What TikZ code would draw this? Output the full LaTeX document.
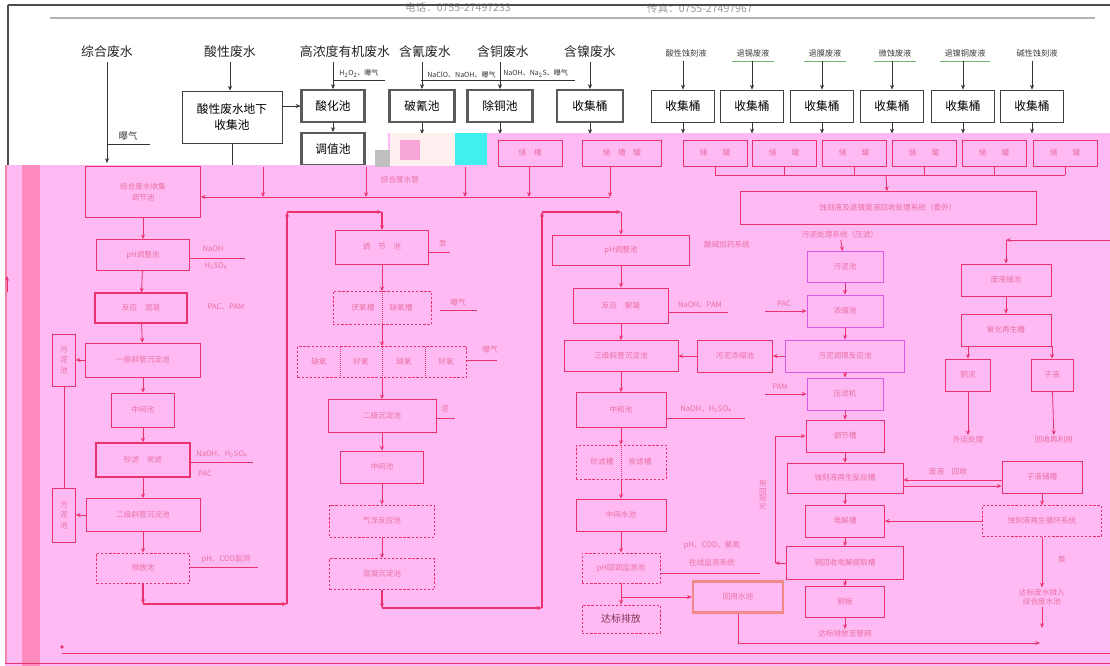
\documentclass[tikz,border=0pt]{standalone}
\usepackage{fontspec}
\setmainfont{Noto Sans CJK SC}
\usetikzlibrary{arrows.meta}
\definecolor{pkbg}{HTML}{FFB9F3}
\definecolor{pkband}{HTML}{FF8CBF}
\definecolor{pkline}{HTML}{E8336E}
\definecolor{pktext}{HTML}{E2608F}
\definecolor{pkviolet}{HTML}{D65AE6}
\definecolor{pkglow}{HTML}{F08A8A}
\definecolor{frgray}{HTML}{5A5A5A}
\definecolor{cyanblk}{HTML}{40F0EE}

\begin{document}
\begin{tikzpicture}[x=0.03cm, y=-0.03cm, >={Stealth[length=4pt,width=3.4pt]},
  box/.style={draw=black!75, line width=0.7pt, inner sep=1pt, align=center, font=\fontsize{10}{14}\selectfont},
  hbox/.style={box, draw=frgray, line width=1.8pt},
  lbl/.style={font=\fontsize{11}{13}\selectfont, text=black!85},
  slbl/.style={font=\fontsize{7}{8}\selectfont, text=black!75},
  rlbl/.style={font=\fontsize{6}{7}\selectfont, text=black!80, anchor=south west, inner sep=1pt},
  pbox/.style={draw=pkline, line width=0.6pt, inner sep=1pt, align=center, font=\fontsize{6.5}{9}\selectfont, text=pktext, text opacity=0.8},
  dbox/.style={pbox, dash pattern=on 2pt off 1.5pt},
  dbl/.style={pbox, line width=1.4pt},
  vbox/.style={pbox, draw=pkviolet},
  gbox/.style={pbox, draw=pkglow, line width=2pt},
  ptext/.style={font=\fontsize{6.5}{8}\selectfont, text=pktext, text opacity=0.8, inner sep=1pt, align=center},
  pline/.style={draw=pkline, line width=0.7pt},
  loopline/.style={draw=pkline, line width=1.3pt}]

\useasboundingbox (0,0) rectangle (1110,666);
\fill[white] (0,0) rectangle (1110,666);

%%% Header
\node[font=\fontsize{9}{10}\selectfont, text=black!40] (tel) at (458,8) {电话：0755-27497233};
\node[font=\fontsize{9}{10}\selectfont, text=black!40] (fax) at (700,8) {传真：0755-27497967};
\draw[black!70, line width=1.2pt] (8,5) -- (1110,5);
\draw[black!70, line width=1pt] (8,5) -- (8,165);
\draw[black!30, line width=1.5pt] (50,18) -- (1095,18);

%%% Sources
\node[lbl] (lzh) at (107,52) {综合废水};
\node[lbl] (lacid) at (230,52) {酸性废水};
\node[lbl] (lgao) at (345,52) {高浓度有机废水};
\node[lbl] (lqing) at (425,52) {含氰废水};
\node[lbl] (ltong) at (503,52) {含铜废水};
\node[lbl] (lnie) at (590,52) {含镍废水};
\foreach \x/\t [count=\i] in {686/酸性蚀刻液, 753/退锡废液, 825/退膜废液, 895/微蚀废液, 965/退镍铜废液, 1037/碱性蚀刻液}
  \node[slbl] (s\i) at (\x,53) {\t};
\foreach \i in {2,...,5}
  \draw[green!45!black!55, line width=0.4pt] (s\i.south west) -- (s\i.south east);

% first boxes
\node[box, minimum width=3cm, minimum height=1.56cm] (acid) at (232,117) {酸性废水地下\\收集池};
\node[hbox, minimum width=1.89cm, minimum height=0.96cm] (suanhua) at (333,106) {酸化池};
\node[hbox, minimum width=1.89cm, minimum height=0.96cm] (tiaozhi) at (333,149) {调值池};
\node[hbox, minimum width=1.95cm, minimum height=0.96cm] (poqing) at (422,106) {破氰池};
\node[hbox, minimum width=1.95cm, minimum height=0.96cm] (chutong) at (500,106) {除铜池};
\node[hbox, minimum width=1.98cm, minimum height=0.96cm] (nieshou) at (590,106) {收集桶};
\foreach \x [count=\i] in {683,752,822,892,963,1032}
  \node[box, minimum width=1.89cm, minimum height=0.96cm] (tong\i) at (\x,106) {收集桶};

% arrows from the sources
\coordinate (zhend) at (107,163);
\draw[->, black!80] (lzh) -- (zhend);
\draw[black!80] (57,165) -- (172,165);
\node[slbl, font=\fontsize{8}{9}\selectfont] (baoqi) at (128,136) {曝气};
\draw[black!80] (108,144) -- (150,144);
\draw[->, black!80] (lacid) -- (lacid |- acid.north);
\draw[black!80] (acid.south) -- ++(0,22);
\draw[->, black!80] (acid.east |- suanhua) -- (suanhua.west);
\draw[->, black!80] (suanhua |- lgao.south) -- (suanhua.north);
\draw[->, black!80] (suanhua) -- (tiaozhi);
\draw[->, black!80] (poqing |- lqing.south) -- (poqing.north);
\draw[->, black!80] (chutong |- ltong.south) -- (chutong.north);
\draw[->, black!80] (nieshou |- lnie.south) -- (nieshou.north);
\foreach \i in {1,...,6}
  \draw[->, black!80] (tong\i |- s\i.south) -- (tong\i.north);

% reagents
\node[rlbl] (ry1) at (338,79) {H\textsubscript{2}O\textsubscript{2}、曝气};
\draw[black!80] (333,80) -- (385,80);
\node[rlbl] (ry2) at (426,79) {NaClO、NaOH、曝气};
\draw[black!80] (421,80) -- (501,80);
\node[rlbl] (ry3) at (502,79) {NaOH、Na\textsubscript{2}S、曝气};
\draw[black!80] (498,80) -- (575,80);

% into the lower part
\foreach \n in {poqing, chutong, nieshou, tong1, tong2, tong3, tong4, tong5, tong6}
  \draw[->, black!80] (\n.south) -- ++(0,11);

%%% Pink part
\fill[pkbg] (5,165) -- (388,165) -- (388,133) -- (1110,133) -- (1110,666) -- (5,666) -- cycle;
\fill[pkband] (22,165) rectangle (40,666);
\fill[black!25] (375,150) rectangle (390,167);
\fill[pink!25] (390,133) rectangle (455,166);
\fill[magenta!35] (400,140) rectangle (420,160);
\fill[cyanblk] (455,133) rectangle (487,165);
\draw[pkline!60, line width=1pt] (6,165) -- (6,663);
\draw[pkline, ->] (7,292) -- (7,276);

% holding tanks
\node[pbox, minimum width=1.92cm, minimum height=0.78cm] (pr1) at (530,153) {储\quad 槽};
\node[pbox, minimum width=2.37cm, minimum height=0.78cm] (pr2) at (622,153) {储\quad 槽\quad 罐};
\foreach \x [count=\i from 3] in {715,784,854,924,994,1065}
  \node[pbox, minimum width=1.92cm, minimum height=0.78cm] (pr\i) at (\x,153) {储\qquad 罐};

% collector to the first line
\coordinate (l1e) at (610,197);
\draw[pline, ->] (pr2.south -| l1e) -- (l1e);
\foreach \x in {263,366,465,529}
  \draw[pline, ->] (\x,167) -- (\x,197);
\node[ptext] (l1lbl) at (400,180) {综合废水管};

% collector to the etchant box
\draw[pline] (715,175) -- (1065,175);
\foreach \i in {3,...,8}
  \draw[pline] (pr\i.south) -- (pr\i.south |- 0,175);
\node[pbox, minimum width=8.88cm, minimum height=0.99cm] (bigbox) at (888,208) {蚀刻液及退镀废液回收处理系统（委外）};
\draw[pline, ->] (886,175) -- (bigbox);

%%% Column 1
\node[pbox, minimum width=3.45cm, minimum height=1.53cm] (c1a) at (143,192) {综合废水收集\\调节池};
\node[pbox, minimum width=2.79cm, minimum height=0.93cm] (c1b) at (143,255) {pH调整池};
\node[pbox, line width=0.9pt, minimum width=2.76cm, minimum height=0.9cm] (c1c) at (141,308) {反应\quad 混凝};
\node[pbox, minimum width=3.45cm, minimum height=1.02cm] (c1d) at (143,360) {一级斜管沉淀池};
\node[pbox, minimum width=1.89cm, minimum height=1.02cm] (c1e) at (143,410) {中间池};
\node[dbl, minimum width=2.82cm, minimum height=1.02cm] (c1f) at (143,460) {砂滤\quad 炭滤};
\node[pbox, minimum width=3.42cm, minimum height=0.99cm] (c1g) at (143,515) {二级斜管沉淀池};
\node[dbox, minimum width=2.79cm, minimum height=0.9cm] (c1h) at (143,568) {排放池};
\node[pbox, minimum width=0.69cm, minimum height=1.56cm] (c1s1) at (64,360) {污\\泥\\池};
\node[pbox, minimum width=0.69cm, minimum height=1.62cm] (c1s2) at (64,515) {污\\泥\\池};

\draw[pline, ->] (l1e) -- (c1a.east |- l1e);
\foreach \a/\b in {c1a/c1b, c1b/c1c, c1c/c1d, c1d/c1e, c1e/c1f, c1f/c1g, c1g/c1h}
  \draw[pline, ->] (\a) -- (\b);
\draw[pline, ->] (c1d) -- (c1s1);
\draw[pline, ->] (c1g) -- (c1s2);
\draw[pline] (c1s1) -- (c1s2);

\node[ptext] (c1bt) at (213,249) {NaOH};
\draw[pline] (c1b.east |- 0,258) -- (245,258);
\node[ptext] (c1bb) at (216,266) {H\textsubscript{2}SO\textsubscript{4}};
\node[ptext] (c1ct) at (226,307) {PAC、PAM};
\node[ptext] (c1ft) at (222,454) {NaOH、H\textsubscript{2}SO\textsubscript{4}};
\draw[pline] (c1f.east |- 0,462) -- (253,462);
\node[ptext] (c1fb) at (205,474) {PAC};
\node[ptext] (c1ht) at (226,559) {pH、COD监测};
\draw[pline] (c1h.east |- 0,567) -- (258,567);

% loop to column 2
\coordinate (k1) at (143,604);
\coordinate (k2) at (287,604);
\coordinate (k3) at (287,212);
\coordinate (k4) at (382,212);
\draw[loopline, ->] (c1h) -- (k1);
\draw[loopline, ->] (k1) -- (k2);
\draw[loopline, ->] (k2) -- (k3);
\draw[loopline, ->] (k3) -- (k4);
\draw[loopline, ->] (k4) -- (382,230);

%%% Column 2
\node[pbox, minimum width=2.79cm, minimum height=1.02cm] (c2a) at (382,247) {调\quad 节\quad 池};
\node[dbox, minimum width=2.94cm, minimum height=0.99cm] (c2b) at (382,308) {厌氧槽\qquad 缺氧槽};
\node[dbox, minimum width=5.07cm, minimum height=0.93cm] (c2c) at (382,362) {};
\node[pbox, minimum width=3.24cm, minimum height=0.99cm] (c2d) at (382,416) {二级沉淀池};
\node[pbox, minimum width=2.49cm, minimum height=0.96cm] (c2e) at (382,467) {中间池};
\node[dbox, minimum width=3.15cm, minimum height=0.96cm] (c2f) at (382,521) {气浮反应池};
\node[dbox, minimum width=3.15cm, minimum height=0.93cm] (c2g) at (382,574) {混凝沉淀池};
\draw[pline, densely dotted] (c2b.north) -- (c2b.south);
\foreach \x in {340,382,425}
  \draw[pline, densely dotted] (\x,347) -- (\x,378);
\foreach \x/\t in {319/缺氧, 361/好氧, 404/缺氧, 446/好氧}
  \node[ptext] at (\x,362) {\t};
\foreach \a/\b in {c2a/c2b, c2b/c2c, c2c/c2d, c2d/c2e, c2e/c2f, c2f/c2g}
  \draw[pline, ->] (\a) -- (\b);

\node[ptext] (c2at) at (443,244) {泵};
\draw[pline] (c2a.east |- 0,252) -- ++(21,0);
\node[ptext] (c2bt) at (458,303) {曝气};
\draw[pline] (440,310) -- (477,310);
\node[ptext] (c2ct) at (490,350) {曝气};
\draw[pline] (c2c.east |- 0,360) -- (497,360);
\node[ptext] (c2dt) at (445,409) {泥};
\draw[pline] (c2d.east |- 0,418) -- (455,418);

% loop to column 3
\coordinate (m1) at (382,608);
\coordinate (m2) at (542,608);
\coordinate (m3) at (542,212);
\coordinate (m4) at (621,212);
\draw[loopline, ->] (c2g) -- (m1);
\draw[loopline, ->] (m1) -- (m2);
\draw[loopline, ->] (m2) -- (m3);
\draw[loopline, ->] (m3) -- (m4);

%%% Column 3
\node[pbox, minimum width=4.11cm, minimum height=0.9cm] (c3a) at (621,250) {pH调整池};
\node[dbl, minimum width=2.85cm, minimum height=1.05cm] (c3b) at (621,306) {反应\quad 絮凝};
\node[pbox, minimum width=3.42cm, minimum height=0.93cm] (c3c) at (621,356) {三级斜管沉淀池};
\node[pbox, minimum width=2.25cm, minimum height=0.96cm] (c3x) at (735,356) {污泥浓缩池};
\node[pbox, minimum width=2.7cm, minimum height=1.05cm] (c3d) at (621,410) {中和池};
\node[dbox, minimum width=2.7cm, minimum height=1.02cm] (c3e) at (621,462) {砂滤槽\qquad 炭滤槽};
\node[pbox, minimum width=2.7cm, minimum height=0.96cm] (c3f) at (621,515) {中间水池};
\node[dbox, minimum width=2.34cm, minimum height=0.9cm] (c3g) at (621,568) {pH回调监测池};
\node[gbox, minimum width=2.7cm, minimum height=0.93cm] (c3h) at (738,597) {回用水池};
\node[dbox, minimum width=2.34cm, minimum height=0.84cm, text=black!60!pkline, font=\fontsize{8.5}{10}\selectfont] (dabiao) at (621,619) {达标排放};
\draw[pline, densely dotted] (c3e.north) -- (c3e.south);

\draw[pline, ->] (m4) -- (c3a);
\foreach \a/\b in {c3a/c3b, c3b/c3c, c3c/c3d, c3d/c3e, c3e/c3f, c3f/c3g, c3g/dabiao}
  \draw[pline, ->] (\a) -- (\b);
\draw[pline, ->] (c3x) -- (c3c);
\coordinate (j3) at (621,597);
\draw[pline, ->] (j3) -- (c3h.west);
\coordinate (out1) at (1040,643);
\draw[pline, ->] (c3h.south) -- (c3h.south |- out1) -- (out1);

\node[ptext] (c3at) at (727,245) {酸碱加药系统};
\node[ptext] (c3bt) at (700,305) {NaOH、PAM};
\draw[pline] (c3b.east |- 0,312) -- (728,312);
\node[ptext] (c3dt) at (706,409) {NaOH、H\textsubscript{2}SO\textsubscript{4}};
\draw[pline] (c3d.east |- 0,418) -- (745,418);
\node[ptext] (c3gt) at (712,545) {pH、COD、氨氮};
\node[ptext] (c3gb) at (712,563) {在线监测系统};
\draw[pline] (c3g.east |- 0,573) -- (760,573);

%%% Column 4
\node[ptext] (c4lbl) at (840,235) {污泥处理系统（压滤）};
\node[vbox, minimum width=2.28cm, minimum height=0.93cm] (c4a) at (845,267) {污泥池};
\node[vbox, minimum width=2.28cm, minimum height=0.96cm] (c4b) at (845,311) {浓缩池};
\node[vbox, minimum width=3.57cm, minimum height=0.96cm] (c4c) at (845,356) {污泥调理反应池};
\node[vbox, minimum width=2.28cm, minimum height=0.96cm] (c4d) at (845,394) {压滤机};
\node[pbox, minimum width=2.34cm, minimum height=0.96cm] (c4e) at (845,436) {调节槽};
\node[pbox, minimum width=3.48cm, minimum height=0.9cm] (c4f) at (845,478) {蚀刻液再生反应槽};
\node[pbox, minimum width=2.37cm, minimum height=0.96cm] (c4g) at (845,521) {电解槽};
\node[pbox, minimum width=3.51cm, minimum height=0.99cm] (c4h) at (845,563) {铜回收电解提取槽};
\node[pbox, minimum width=2.37cm, minimum height=0.93cm] (c4i) at (845,602) {铜板};
\node[ptext] (c4out) at (845,634) {达标排放至管网};

\draw[pline, ->] (c4lbl) -- (c4a);
\foreach \a/\b in {c4a/c4b, c4b/c4c, c4c/c4d, c4d/c4e, c4e/c4f, c4f/c4g, c4g/c4h, c4h/c4i, c4i/c4out}
  \draw[pline, ->] (\a) -- (\b);
\draw[pline, ->] (c4c) -- (c3x);
\node[ptext] (pac) at (784,304) {PAC};
\coordinate (pacs) at (765,311);
\draw[pline, ->] (pacs) -- (c4b);
\node[ptext] (pam) at (780,387) {PAM};
\coordinate (pams) at (765,394);
\draw[pline, ->] (pams) -- (c4d);
\coordinate (r1) at (775,563);
\coordinate (r2) at (775,436);
\draw[pline, ->] (c4h) -- (r1);
\draw[pline, ->] (r1) -- (r2) -- (c4e);
\node[ptext, rotate=90] (rlbl) at (763,495) {污泥回流};

%%% Column 5
\coordinate (r5a) at (1110,240);
\coordinate (r5b) at (1006,240);
\node[pbox, minimum width=2.7cm, minimum height=0.96cm] (c5a) at (1006,280) {废液储池};
\node[pbox, minimum width=2.7cm, minimum height=0.96cm] (c5b) at (1006,330) {氧化再生槽};
\node[pbox, minimum width=1.35cm, minimum height=0.96cm] (c5c1) at (968,375) {铜泥};
\node[pbox, minimum width=1.26cm, minimum height=0.96cm] (c5c2) at (1052,375) {子液};
\node[ptext] (c5t1) at (968,440) {外运处理};
\node[ptext] (c5t2) at (1054,440) {回收再利用};
\node[pbox, minimum width=2.4cm, minimum height=0.96cm] (c5d) at (1042,477) {子液储槽};
\node[dbox, minimum width=3.57cm, minimum height=0.93cm] (c5e) at (1042,521) {蚀刻液再生循环系统};
\node[ptext] (c5t3) at (1042,597) {达标废水排入\\综合废水池};

\draw[pline, ->] (r5a) -- (r5b);
\draw[pline, ->] (r5b) -- (c5a);
\draw[pline, ->] (c5a) -- (c5b);
\draw[pline, ->] (c5b.south -| c5c1) -- (c5c1);
\draw[pline, ->] (c5b.south -| c5c2) -- (c5c2);
\draw[pline, ->] (c5c1) -- (c5t1);
\draw[pline, ->] (c5c2) -- (c5t2);
\draw[pline, ->] (c5d) -- (c5e);
\draw[pline, ->] (c5e) -- (c5t3);
\node[ptext] (c5pump) at (1062,560) {泵};
\coordinate (c5end) at (1042,628);
\draw[pline, ->] (c5t3) -- (c5end);
\draw[pline, ->] (c5d.west |- 0,480) -- (c4f.east |- 0,480);
\draw[pline, ->] (c4f.east |- 0,486) -- (c5d.west |- 0,486);
\node[ptext] (c45t) at (948,472) {废液\quad 回收};
\draw[pline, ->] (c5e) -- (c4g);

%%% Bottom
\fill[pkline] (62,647) circle (1.6pt);
\draw[pline] (62,653) -- (1110,653);
\draw[pline] (5,663) -- (1110,663);

\end{tikzpicture}
\end{document}
